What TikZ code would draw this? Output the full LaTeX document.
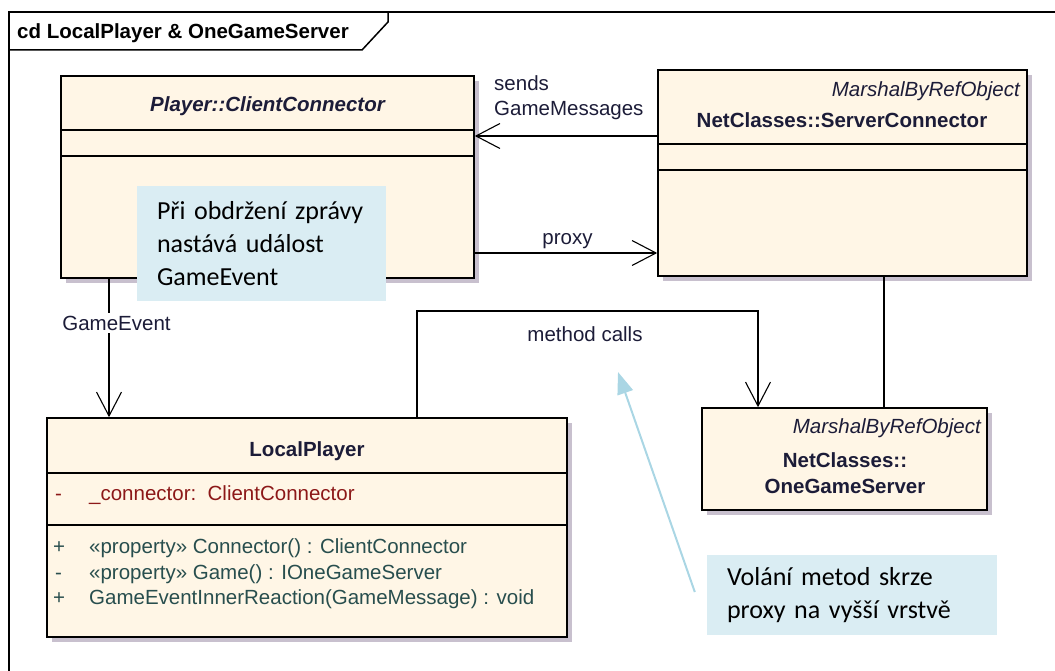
\documentclass[tikz,border=0pt]{standalone}
\usepackage{fontspec}
\setmainfont{Liberation Sans}
\newfontfamily\notefont{Carlito}
\usetikzlibrary{arrows.meta,shadows}
\definecolor{classfill}{RGB}{255,246,230}
\definecolor{shadowcol}{RGB}{200,192,206}
\definecolor{notefill}{RGB}{218,237,243}
\definecolor{attrcol}{RGB}{140,24,24}
\definecolor{opcol}{RGB}{40,78,78}
\definecolor{txtcol}{RGB}{28,28,56}
\definecolor{hintcol}{RGB}{170,214,228}
\begin{document}
\begin{tikzpicture}[x=1pt,y=-1pt,
  umlclass/.style={draw,line width=1.6pt,fill=classfill,inner sep=0pt,
    drop shadow={shadow xshift=5pt,shadow yshift=-5pt,fill=shadowcol,opacity=1}},
  divider/.style={line width=1.6pt},
  umltext/.style={font=\fontsize{20.5}{24}\selectfont,anchor=base,inner sep=1pt,text=txtcol},
  note/.style={fill=notefill,inner ysep=0pt,inner xsep=20pt,align=left,
    font=\notefont\fontsize{26}{33}\selectfont},
  assoc/.style={line width=1.3pt,-{Straight Barb[length=24pt,width=25pt,line width=1.1pt]}},
  hint/.style={draw=hintcol,line width=2pt,-{Triangle[length=22pt,width=16pt]},hintcol}]
\useasboundingbox (0,0) rectangle (1055,671);
\draw[line width=1.5pt] (9,672) -- (9,12) -- (1056,12);
\draw[line width=1.5pt] (9,50) -- (362,50) -- (388,22) -- (388,12);
\node[umltext,anchor=base west,font=\fontsize{20.5}{24}\selectfont\bfseries,text=black] (frametitle) at (16,39) {cd LocalPlayer \& OneGameServer};

\node[umlclass,minimum width=413pt,minimum height=202pt] (cc) at (267.5,177) {};
\draw[divider] (cc.west |- 0,130) -- (cc.east |- 0,130);
\draw[divider] (cc.west |- 0,156) -- (cc.east |- 0,156);
\node[umltext,font=\fontsize{20.5}{24}\selectfont\bfseries\itshape] (cctitle) at (267.5,112) {Player::ClientConnector};

\node[umlclass,minimum width=369pt,minimum height=206pt] (sc) at (842.5,173) {};
\draw[divider] (sc.west |- 0,144) -- (sc.east |- 0,144);
\draw[divider] (sc.west |- 0,170) -- (sc.east |- 0,170);
\node[umltext,anchor=base east,font=\fontsize{20.5}{24}\selectfont\itshape] (scstereo) at (1021,97) {MarshalByRefObject};
\node[umltext,font=\fontsize{20.5}{24}\selectfont\bfseries] (sctitle) at (842,128) {NetClasses::ServerConnector};

\node[umlclass,minimum width=285pt,minimum height=102pt] (ogs) at (844.5,459) {};
\node[umltext,anchor=base east,font=\fontsize{20.5}{24}\selectfont\itshape] (ogsstereo) at (982,433) {MarshalByRefObject};
\node[umltext,font=\fontsize{20.5}{24}\selectfont\bfseries] (ogstitle) at (845,467) {NetClasses::};
\node[umltext,font=\fontsize{20.5}{24}\selectfont\bfseries] (ogstitleb) at (845,493) {OneGameServer};

\node[umlclass,minimum width=520pt,minimum height=219pt] (lp) at (307,527.5) {};
\draw[divider] (lp.west |- 0,473) -- (lp.east |- 0,473);
\draw[divider] (lp.west |- 0,525) -- (lp.east |- 0,525);
\node[umltext,font=\fontsize{20.5}{24}\selectfont\bfseries] (lptitle) at (307,456) {LocalPlayer};
\node[umltext,anchor=base west,text=attrcol] (attrvis) at (54,500) {-};
\node[umltext,anchor=base west,text=attrcol] (attr) at (88,500) {\_connector:\ \ ClientConnector};
\node[umltext,anchor=base west,text=opcol] (opvisa) at (52,553) {+};
\node[umltext,anchor=base west,text=opcol] (opa) at (88,553) {«property» Connector() : ClientConnector};
\node[umltext,anchor=base west,text=opcol] (opvisb) at (54,579) {-};
\node[umltext,anchor=base west,text=opcol] (opb) at (88,579) {«property» Game() : IOneGameServer};
\node[umltext,anchor=base west,text=opcol] (opvisc) at (52,604) {+};
\node[umltext,anchor=base west,text=opcol] (opc) at (88,604) {GameEventInnerReaction(GameMessage) : void};

\draw[assoc] (sc.west |- 0,136) -- (cc.east |- 0,136);
\node[umltext,anchor=base west] (sendsa) at (493,91) {sends};
\node[umltext,anchor=base west] (sendsb) at (493,116) {GameMessages};
\draw[assoc] (cc.east |- 0,253) -- (sc.west |- 0,253);
\node[umltext] (proxylbl) at (567.5,244) {proxy};
\draw[assoc] (cc.south -| 109,0) -- (lp.north -| 109,0);
\node[umltext,fill=white,inner ysep=3pt] (gelbl) at (116.5,330) {GameEvent};
\draw[assoc] (lp.north -| 417,0) -- (417,311) -- (758,311) -- (ogs.north -| 758,0);
\node[umltext] (mclbl) at (585,341) {method calls};
\draw[line width=1.3pt] (sc.south -| 884,0) -- (ogs.north -| 884,0);

\node[note,minimum width=249pt,minimum height=114pt,text width=209pt] (notea) at (261.5,243.5)
  {Při obdržení zprávy\\nastává událost\\GameEvent};
\node[note,minimum width=290pt,minimum height=80pt,text width=250pt] (noteb) at (852,595)
  {Volání metod skrze\\proxy na vyšší vrstvě};
\coordinate (callspt) at (618,372);
\draw[hint] ([xshift=-12pt,yshift=3pt]noteb.west) -- (callspt);
\end{tikzpicture}
\end{document}
